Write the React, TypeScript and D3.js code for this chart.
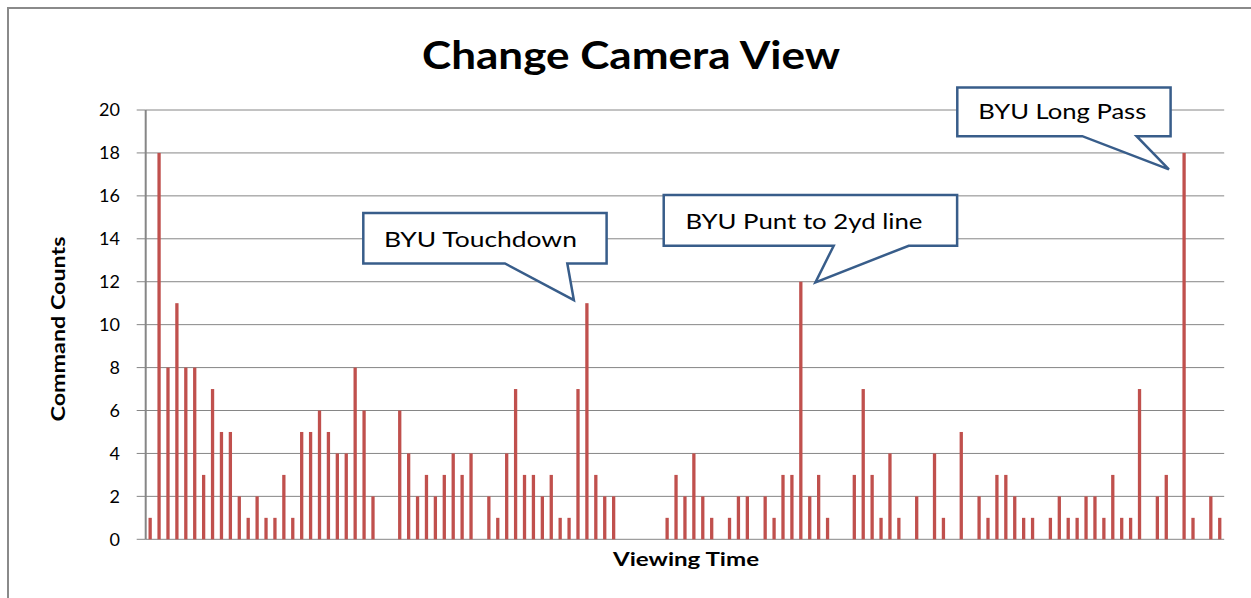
import React from "react";
import * as d3 from "d3";

// ---- data ----
const counts: number[] = [
  1, 18, 8, 11, 8, 8, 3, 7, 5, 5, 2, 1, 2, 1, 1, 3, 1, 5, 5, 6,
  5, 4, 4, 8, 6, 2, 0, 0, 6, 4, 2, 3, 2, 3, 4, 3, 4, 0, 2, 1,
  4, 7, 3, 3, 2, 3, 1, 1, 7, 11, 3, 2, 2, 0, 0, 0, 0, 0, 1, 3,
  2, 4, 2, 1, 0, 1, 2, 2, 0, 2, 1, 3, 3, 12, 2, 3, 1, 0, 0, 3,
  7, 3, 1, 4, 1, 0, 2, 0, 4, 1, 0, 5, 0, 2, 1, 3, 3, 2, 1, 1,
  0, 1, 2, 1, 1, 2, 2, 1, 3, 1, 1, 7, 0, 2, 3, 0, 18, 1, 0, 2,
  1,
];
const categories: number[] = counts.map((_, i) => i + 1);
const yTicks: number[] = [0, 2, 4, 6, 8, 10, 12, 14, 16, 18, 20];

const annotationLabels: string[] = ["BYU Touchdown", "BYU Punt to 2yd line", "BYU Long Pass"];
const annotationIndex: number[] = [49, 73, 116];

const title = "Change Camera View";
const yTitle = "Command Counts";
const xTitle = "Viewing Time";

// ---- layout ----
const W = 1251;
const H = 598;
const plotLeft = 145.7;
const plotRight = 1224.2;
const plotTop = 110;
const plotBottom = 539.3;

// callout geometry (tip offset from bar top, box relative to tip)
const calloutGeom = [
  { dx: -13, dy: -3, bx: -210.6, by: -87.3, w: 243.3, h: 50.6, b1: 141.6, b2: 204, tx: 20.6, ty: 34, tl: 193 },
  { dx: 14.6, dy: 0.6, bx: -151.7, by: -87.3, w: 293.4, h: 50.7, b1: 170, b2: 245, tx: 21.7, ty: 34.3, tl: 237 },
  { dx: -15.2, dy: 16.5, bx: -211.6, by: -82, w: 213.3, h: 48.7, b1: 125, b2: 179.3, tx: 21, ty: 32, tl: 168 },
];

const FONT = "Lato, 'Open Sans', 'Liberation Sans', sans-serif";

export default function App() {
  const x = d3
    .scaleBand<number>()
    .domain(categories)
    .range([plotLeft, plotRight])
    .paddingInner(0.63)
    .paddingOuter(0.315);
  const y = d3.scaleLinear().domain([0, 20]).range([plotBottom, plotTop]);

  return (
    <svg
      width={W}
      height={H}
      style={{ position: "absolute", left: 0, top: 0, background: "#fff" }}
      fontFamily={FONT}
    >
      <rect x={0} y={0} width={W} height={H} fill="#fff" />
      {/* outer frame */}
      <line x1={7} y1={8} x2={W} y2={8} stroke="#8a8a8a" strokeWidth={2} />
      <line x1={8} y1={7} x2={8} y2={H} stroke="#8a8a8a" strokeWidth={2} />

      {/* title */}
      <text
        x={631}
        y={69}
        textAnchor="middle"
        fontSize={39}
        fontWeight="bold"
        textLength={418}
        lengthAdjust="spacingAndGlyphs"
        fill="#000"
      >
        {title}
      </text>

      {/* gridlines */}
      {yTicks.map((t) => (
        <line
          key={"g" + t}
          x1={plotLeft}
          x2={plotRight}
          y1={y(t)}
          y2={y(t)}
          stroke="#868686"
          strokeWidth={1}
        />
      ))}

      {/* y axis */}
      <line x1={plotLeft} x2={plotLeft} y1={plotTop} y2={plotBottom} stroke="#868686" strokeWidth={2} />
      {yTicks.map((t) => (
        <g key={"t" + t}>
          <line x1={plotLeft - 9} x2={plotLeft} y1={y(t)} y2={y(t)} stroke="#868686" strokeWidth={1} />
          <text x={120} y={y(t)} dy="0.35em" textAnchor="end" fontSize={18} fill="#000">
            {t}
          </text>
        </g>
      ))}

      {/* bars */}
      {counts.map((v, i) =>
        v > 0 ? (
          <rect
            key={"b" + i}
            x={x(categories[i])!}
            width={x.bandwidth()}
            y={y(v)}
            height={y(0) - y(v)}
            fill="#C0504D"
          />
        ) : null
      )}

      {/* axis titles */}
      <text
        transform={`translate(65, 329) rotate(-90)`}
        textAnchor="middle"
        fontSize={19}
        fontWeight="bold"
        textLength={185}
        lengthAdjust="spacingAndGlyphs"
        fill="#000"
      >
        {yTitle}
      </text>
      <text
        x={686}
        y={566}
        textAnchor="middle"
        fontSize={19}
        fontWeight="bold"
        textLength={146}
        lengthAdjust="spacingAndGlyphs"
        fill="#000"
      >
        {xTitle}
      </text>

      {/* callouts */}
      {annotationLabels.map((label, k) => {
        const g = calloutGeom[k];
        const idx = annotationIndex[k];
        const cx = x(categories[idx])! + x.bandwidth() / 2;
        const tipX = cx + g.dx;
        const tipY = y(counts[idx]) + g.dy;
        const L = tipX + g.bx;
        const T = tipY + g.by;
        const R = L + g.w;
        const B = T + g.h;
        const path = d3.path();
        path.moveTo(L, T);
        path.lineTo(R, T);
        path.lineTo(R, B);
        path.lineTo(L + g.b2, B);
        path.lineTo(tipX, tipY);
        path.lineTo(L + g.b1, B);
        path.lineTo(L, B);
        path.closePath();
        return (
          <g key={"c" + k}>
            <path d={path.toString()} fill="#fff" stroke="#385D8A" strokeWidth={2.5} strokeLinejoin="miter" />
            <text
              x={L + g.tx}
              y={T + g.ty}
              fontSize={21}
              textLength={g.tl}
              lengthAdjust="spacingAndGlyphs"
              fill="#000"
            >
              {label}
            </text>
          </g>
        );
      })}
    </svg>
  );
}
